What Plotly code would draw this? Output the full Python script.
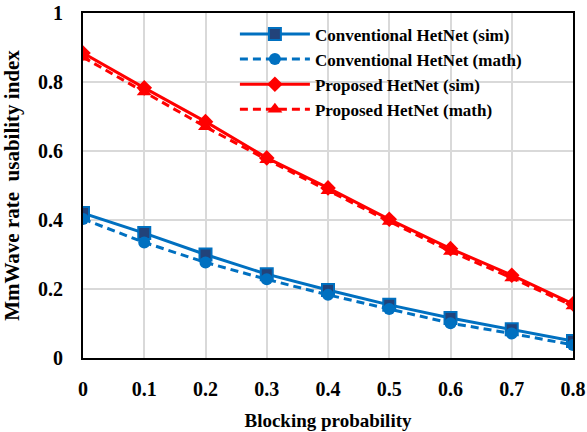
import plotly.graph_objects as go

x = [0, 0.1, 0.2, 0.3, 0.4, 0.5, 0.6, 0.7, 0.8]
x_labels = ["0", "0.1", "0.2", "0.3", "0.4", "0.5", "0.6", "0.7", "0.8"]
y_ticks = [0, 0.2, 0.4, 0.6, 0.8, 1]
y_labels = ["0", "0.2", "0.4", "0.6", "0.8", "1"]
conv_sim = [0.420, 0.362, 0.300, 0.243, 0.197, 0.154, 0.116, 0.083, 0.049]
conv_math = [0.403, 0.335, 0.277, 0.228, 0.183, 0.142, 0.101, 0.071, 0.038]
prop_sim = [0.884, 0.783, 0.685, 0.580, 0.493, 0.402, 0.317, 0.240, 0.157]
prop_math = [0.872, 0.771, 0.670, 0.575, 0.485, 0.396, 0.309, 0.232, 0.151]
names = ["Conventional HetNet (sim)", "Conventional HetNet (math)",
         "Proposed HetNet (sim)", "Proposed HetNet (math)"]

BLUE = "#0070C0"
RED = "#FF0000"
FONT = "Liberation Serif"

fig = go.Figure()
fig.add_trace(go.Scatter(x=x, y=conv_sim, name=names[0], mode="lines+markers",
                         line=dict(color=BLUE, width=3),
                         marker=dict(symbol="square", size=12, color="#22437A",
                                     line=dict(color=BLUE, width=2))))
fig.add_trace(go.Scatter(x=x, y=conv_math, name=names[1], mode="lines+markers",
                         line=dict(color=BLUE, width=3, dash="8px,5px"),
                         marker=dict(symbol="circle", size=12, color=BLUE)))
fig.add_trace(go.Scatter(x=x, y=prop_sim, name=names[2], mode="lines+markers",
                         line=dict(color=RED, width=3),
                         marker=dict(symbol="diamond", size=12, color=RED)))
fig.add_trace(go.Scatter(x=x, y=prop_math, name=names[3], mode="lines+markers",
                         line=dict(color=RED, width=3, dash="8px,5px"),
                         marker=dict(symbol="triangle-up", size=13, color=RED)))

fig.update_layout(
    width=587, height=432,
    margin=dict(l=83, r=14, t=13, b=74),
    paper_bgcolor="white", plot_bgcolor="white",
    font=dict(family=FONT, size=19, color="black", weight="bold"),
    showlegend=True,
    legend=dict(x=0.31, y=0.99, xanchor="left", yanchor="top",
                bgcolor="rgba(0,0,0,0)", borderwidth=0,
                font=dict(family=FONT, size=17, color="black", weight="bold"),
                itemwidth=70, tracegroupgap=0),
    xaxis=dict(range=[0, 0.8], tickvals=x, ticktext=x_labels, automargin=False,
               showgrid=True, gridcolor="#D9D9D9", gridwidth=2,
               showline=True, linecolor="black", linewidth=2, mirror=True,
               ticks="", zeroline=False, ticklabelstandoff=12,
               tickfont=dict(family=FONT, size=20, color="black", weight="bold"),
               title=dict(text="Blocking probability",
                          font=dict(family=FONT, size=19, weight="bold"))),
    yaxis=dict(range=[0, 1], tickvals=y_ticks, ticktext=y_labels, automargin=False,
               showgrid=True, gridcolor="#D9D9D9", gridwidth=2,
               showline=True, linecolor="black", linewidth=2, mirror=True,
               ticks="", zeroline=False, ticklabelstandoff=14,
               tickfont=dict(family=FONT, size=20, color="black", weight="bold"),
               title=dict(text="MmWave rate  usability index",
                          font=dict(family=FONT, size=21, weight="bold"))),
)
fig.write_html("out.html")
